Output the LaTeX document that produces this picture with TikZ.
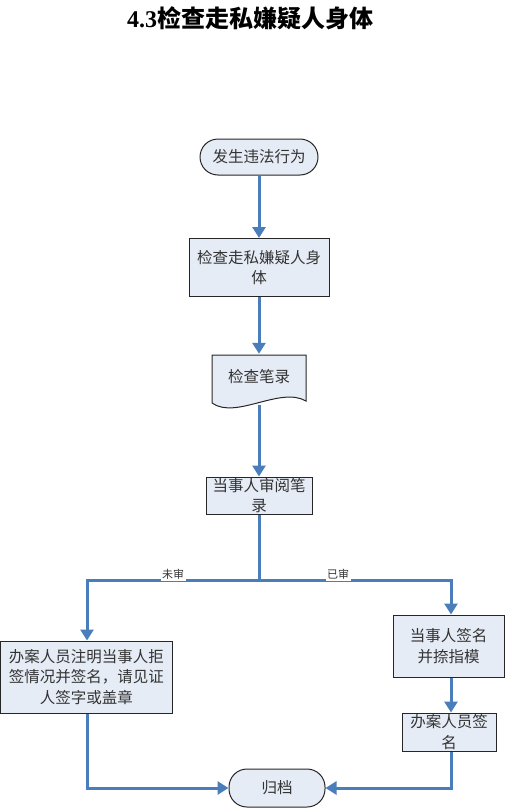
\documentclass[tikz,border=0pt]{standalone}
\usepackage{fontspec}
\setmainfont{Liberation Serif}
\newfontfamily\cjk{Noto Sans CJK SC}
\usetikzlibrary{arrows.meta}
\definecolor{flowblue}{HTML}{4A7EBB}
\definecolor{boxfill}{HTML}{E6ECF6}
\begin{document}
\begin{tikzpicture}[x=1pt,y=-1pt,
  base/.style={draw=black!85,line width=1pt,fill=boxfill,text=black!80,align=center,inner sep=0pt,
    font=\cjk\fontsize{15.5}{20.5}\selectfont},
  procbox/.style={base,rectangle},
  pill/.style={base,rectangle,rounded corners=18pt},
  flow/.style={draw=flowblue,line width=3pt,-{Triangle[length=11pt,width=13pt]}},
  plain/.style={draw=flowblue,line width=3pt},
  lbl/.style={fill=white,inner sep=1.5pt,text=black!80,font=\cjk\fontsize{11}{12}\selectfont},
  docshape/.style={draw=black!85,line width=1pt,fill=boxfill}
]
\useasboundingbox (0,0) rectangle (505,808);

\node[font=\fontsize{24}{24}\selectfont\bfseries] (title) at (250,18) {4.3{\cjk 检查走私嫌疑人身体}};

\node[pill,minimum width=118pt,minimum height=36pt] (start) at (259,157) {发生违法行为};
\node[procbox,minimum width=140pt,minimum height=58pt] (check) at (259,267.5) {检查走私嫌疑人身\\体};

\draw[docshape] (212,355) -- (306,355) -- (306,401) .. controls (280,386) and (236,420) .. (212,403) -- cycle;
\node[inner sep=0pt,minimum width=94pt,minimum height=46pt,text=black!80,font=\cjk\fontsize{15.5}{20}\selectfont] (doc) at (259,377) {检查笔录};
\coordinate (docb) at (259,405);

\node[procbox,minimum width=106pt,minimum height=37pt] (review) at (259,495.5) {当事人审阅笔\\录};

\node[procbox,minimum width=172pt,minimum height=72pt] (refuse) at (86.5,677) {办案人员注明当事人拒\\签情况并签名，请见证\\人签字或盖章};
\node[procbox,minimum width=111pt,minimum height=62pt] (sign) at (448.5,646) {当事人签名\\并捺指模};
\node[procbox,minimum width=94pt,minimum height=38pt] (officer) at (449,732) {办案人员签\\名};

\node[pill,minimum width=96pt,minimum height=38pt] (archive) at (277,788) {归档};

\draw[flow] (start) -- (check);
\draw[flow] (check) -- (doc.north);
\draw[flow] (docb) -- (review);
\coordinate (split) at (259,580);
\draw[plain] (review.south) -- (split);
\draw[flow] (split) -| (refuse.north -| 87,0);
\draw[flow] (split) -| (sign.north -| 451,0);
\draw[flow] (sign.south -| 451,0) -- (officer.north -| 451,0);
\draw[flow] (officer.south -| 451,0) |- (archive.east);
\draw[flow] (refuse.south -| 87,0) |- (archive.west);

\node[lbl] (notrev) at (173,574) {未审};
\node[lbl] (rev) at (338,574) {已审};
\end{tikzpicture}
\end{document}
